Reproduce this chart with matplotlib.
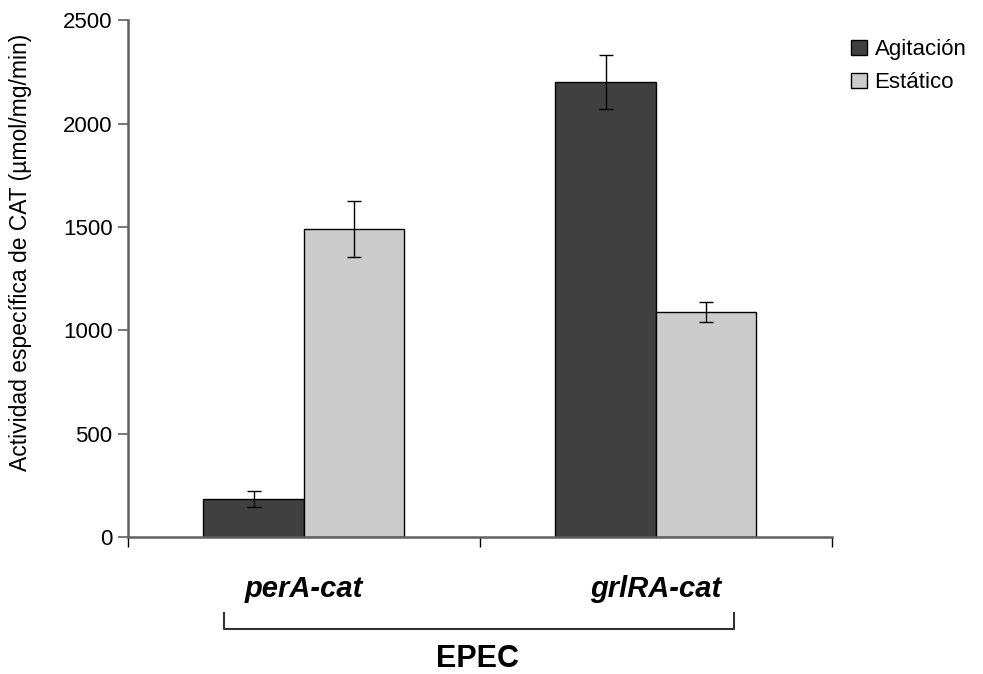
import numpy as np
import matplotlib.pyplot as plt
from matplotlib.patches import Patch

plt.rcParams['font.family'] = ['Liberation Sans', 'DejaVu Sans']

# Actividad CAT por construcción y condición de cultivo
construcciones = ["perA-cat", "grlRA-cat"]
agitacion = [185, 2200]
agitacion_err = [40, 130]
estatico = [1490, 1090]
estatico_err = [135, 47]

col_agit = "#404040"
col_est = "#cccccc"
eje = "#606060"

fig = plt.figure(figsize=(9.83, 6.74), dpi=100)
ax = fig.add_axes([0.130, 0.203, 0.716, 0.767])

x = np.arange(len(construcciones))
w = 0.285
err_kw = dict(ecolor="black", capsize=5, elinewidth=1, capthick=1)
ax.bar(x - w / 2, agitacion, w, yerr=agitacion_err, color=col_agit,
       edgecolor="black", linewidth=1, error_kw=err_kw, zorder=2)
ax.bar(x + w / 2, estatico, w, yerr=estatico_err, color=col_est,
       edgecolor="black", linewidth=1, error_kw=err_kw, zorder=2)

ax.set_xlim(-0.5, len(construcciones) - 0.5)
ax.set_ylim(0, 2500)
ax.set_yticks(np.arange(0, 2501, 500))

# ticks mayores en los límites de cada grupo, etiquetas en el centro
ax.set_xticks(np.arange(-0.5, len(construcciones), 1.0))
ax.set_xticklabels([])
ax.set_xticks(x, minor=True)
ax.set_xticklabels(construcciones, minor=True, fontsize=21,
                   fontweight="bold", fontstyle="italic")
ax.tick_params(axis="x", which="minor", length=0, pad=27)
ax.tick_params(axis="x", which="major", length=7, width=1, color="black")
ax.tick_params(axis="y", length=7, width=1.2, color=eje, labelsize=16, pad=4)

for s in ["top", "right"]:
    ax.spines[s].set_visible(False)
for s in ["left", "bottom"]:
    ax.spines[s].set_color(eje)
    ax.spines[s].set_linewidth(1.8)

ax.set_ylabel("Actividad específica de CAT (µmol/mg/min)", fontsize=16.5)
ax.yaxis.set_label_coords(-0.136, 0.55)

# corchete que agrupa ambas construcciones
tr = ax.get_xaxis_transform()
ax.plot([-0.227, -0.227, 1.224, 1.224], [-0.147, -0.178, -0.178, -0.147],
        transform=tr, color="#333333", linewidth=1.5, clip_on=False)
ax.text(0.494, -0.236, "EPEC", transform=tr, ha="center", va="center",
        fontsize=22, fontweight="bold")

handles = [Patch(facecolor=col_agit, edgecolor="black", label="Agitación"),
           Patch(facecolor=col_est, edgecolor="black", label="Estático")]
fig.legend(handles=handles, loc="upper left", bbox_to_anchor=(0.866, 0.942),
           frameon=False, fontsize=16, handlelength=0.7, handleheight=0.7,
           handletextpad=0.35, labelspacing=0.55, borderaxespad=0,
           borderpad=0)

fig.savefig("out.png", dpi=100)
